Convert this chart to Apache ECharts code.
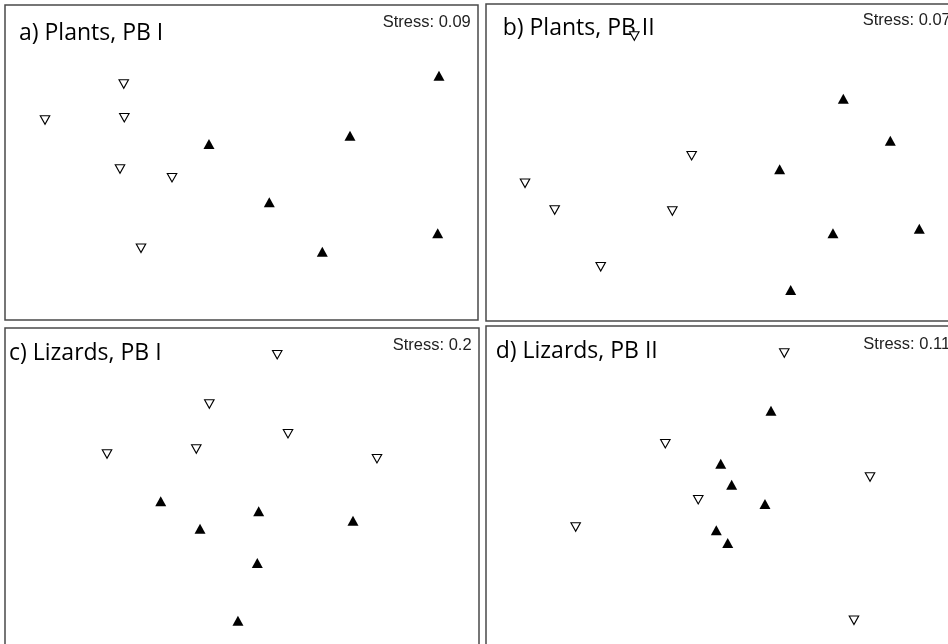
<!DOCTYPE html>
<html>
<head>
<meta charset="utf-8">
<script src="https://cdn.jsdelivr.net/npm/echarts@6/dist/echarts.min.js"></script>
<style>
html,body{margin:0;padding:0;background:#fff;overflow:hidden;width:948px;height:644px;}
#chart{width:970px;height:670px;}
</style>
</head>
<body>
<div id="chart"></div>
<script>
// NMDS ordination scores (axis 1, axis 2)
const panelTitles = ['a) Plants, PB I', 'b) Plants, PB II', 'c) Lizards, PB I', 'd) Lizards, PB II'];
const stressLabels = ['Stress: 0.09', 'Stress: 0.07', 'Stress: 0.2', 'Stress: 0.11'];

// open down-triangles
const plantsPB1Open = [[-1.195,0.797],[-1.994,0.432],[-1.189,0.455],[-1.233,-0.066],[-0.705,-0.154],[-1.020,-0.872]];
// filled up-triangles
const plantsPB1Filled = [[2.004,0.882],[1.101,0.272],[-0.330,0.188],[0.282,-0.404],[1.991,-0.719],[0.820,-0.906]];

const plantsPB2Open = [[-0.895,1.277],[-0.313,0.069],[-2.004,-0.210],[-1.703,-0.480],[-0.509,-0.490],[-1.236,-1.052]];
const plantsPB2Filled = [[1.226,0.644],[1.703,0.220],[0.580,-0.069],[1.997,-0.668],[1.121,-0.715],[0.692,-1.287]];

const lizardsPB1Open = [[0.357,1.333],[-0.331,0.840],[0.466,0.543],[-0.463,0.390],[-1.367,0.340],[1.367,0.293]];
const lizardsPB1Filled = [[-0.823,-0.133],[0.169,-0.233],[1.124,-0.327],[-0.425,-0.407],[0.155,-0.750],[-0.041,-1.327]];

const lizardsPB2Open = [[0.627,1.330],[-0.580,0.423],[1.497,0.090],[-0.246,-0.137],[-1.490,-0.410],[1.334,-1.343]];
const lizardsPB2Filled = [[0.492,0.753],[-0.018,0.223],[0.093,0.013],[0.431,-0.180],[-0.063,-0.443],[0.053,-0.570]];

const openSets = [plantsPB1Open, plantsPB2Open, lizardsPB1Open, lizardsPB2Open];
const filledSets = [plantsPB1Filled, plantsPB2Filled, lizardsPB1Filled, lizardsPB2Filled];

// layout (not data)
const boxes = [
  {left: 5, top: 5, width: 473, height: 315},
  {left: 486, top: 4, width: 473, height: 317},
  {left: 5, top: 328, width: 474, height: 320},
  {left: 486, top: 326, width: 473, height: 320}
];
const titlePos = [[19, 44.5], [502.7, 39.8], [9, 365], [495.7, 362.8]];
const stressPos = [[382.7, 31], [862.7, 29.3], [392.7, 354], [863.3, 353]];

const chart = echarts.init(document.getElementById('chart'), null, {renderer: 'canvas'});

const grids = boxes.map(b => ({
  left: b.left, top: b.top, width: b.width, height: b.height,
  show: true, borderColor: '#4a4a4a', borderWidth: 1.5, backgroundColor: '#fff'
}));
const xAxes = boxes.map((b, i) => ({
  type: 'value', gridIndex: i, min: -2.4, max: 2.4,
  show: false, splitLine: {show: false}
}));
const yAxes = boxes.map((b, i) => ({
  type: 'value', gridIndex: i, min: -1.6, max: 1.6,
  show: false, splitLine: {show: false}
}));

const series = [];
for (let i = 0; i < 4; i++) {
  series.push({
    type: 'scatter', xAxisIndex: i, yAxisIndex: i,
    data: openSets[i],
    symbol: 'triangle', symbolRotate: 180, symbolSize: [9.5, 8.5],
    itemStyle: {color: '#fff', borderColor: '#000', borderWidth: 1.1, opacity: 1},
    emphasis: {disabled: true}, silent: true, z: 3
  });
  series.push({
    type: 'scatter', xAxisIndex: i, yAxisIndex: i,
    data: filledSets[i],
    symbol: 'triangle', symbolSize: [11, 10],
    itemStyle: {color: '#000', borderWidth: 0, opacity: 1},
    emphasis: {disabled: true}, silent: true, z: 3
  });
}

const graphics = [];
for (let i = 0; i < 4; i++) {
  graphics.push({
    type: 'text', x: titlePos[i][0], y: titlePos[i][1], z: 2,
    style: {text: panelTitles[i], font: '23px "Open Sans"', fill: '#000', textAlign: 'left', textVerticalAlign: 'bottom'}
  });
  graphics.push({
    type: 'text', x: stressPos[i][0], y: stressPos[i][1], z: 2,
    style: {text: stressLabels[i], font: '16.5px "Liberation Sans"', fill: '#222', textAlign: 'left', textVerticalAlign: 'bottom'}
  });
}

chart.setOption({
  animation: false,
  backgroundColor: '#fff',
  grid: grids,
  xAxis: xAxes,
  yAxis: yAxes,
  series: series,
  graphic: {elements: graphics}
});
</script>
</body>
</html>
